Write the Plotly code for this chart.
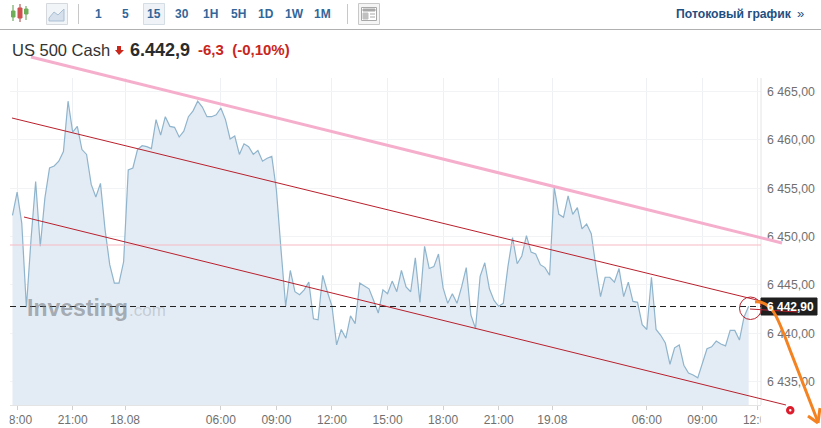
import plotly.graph_objects as go

W, H = 821, 428
L, R, T, B = 10, 761, 78, 405

# Closing prices, one per 15 minute bar
prices = [
    6452.2, 6454.6, 6451.4, 6442.7, 6449.7, 6455.7, 6449.0, 6454.0, 6457.1, 6457.3,
    6457.8, 6458.8, 6464.0, 6460.8, 6461.4, 6459.0, 6458.5, 6455.4, 6454.1, 6455.5,
    6450.7, 6447.1, 6445.2, 6445.2, 6447.4, 6456.9, 6457.1, 6459.0, 6459.4, 6459.3,
    6459.1, 6462.1, 6460.5, 6462.4, 6461.4, 6461.3, 6460.3, 6460.9, 6462.4, 6463.0,
    6464.0, 6463.4, 6462.4, 6462.4, 6462.6, 6463.3, 6462.1, 6460.1, 6460.4, 6458.5,
    6459.6, 6459.3, 6458.5, 6458.9, 6457.8, 6458.1, 6458.3, 6454.8, 6448.6, 6442.8,
    6446.5, 6444.3, 6444.0, 6444.5, 6445.3, 6441.5, 6441.4, 6446.0, 6444.3, 6442.8,
    6438.8, 6440.4, 6439.5, 6441.8, 6441.0, 6445.2, 6444.9, 6444.6, 6443.4, 6442.1,
    6444.5, 6444.1, 6445.4, 6444.3, 6446.5, 6444.8, 6444.3, 6447.8, 6443.2, 6449.0,
    6446.7, 6446.9, 6448.2, 6444.7, 6443.1, 6444.1, 6443.1, 6444.8, 6446.8, 6441.9,
    6440.5, 6445.9, 6447.3, 6444.6, 6443.4, 6442.8, 6443.1, 6446.9, 6449.9, 6447.2,
    6448.0, 6450.1, 6448.4, 6448.2, 6447.1, 6446.8, 6446.0, 6455.1, 6452.3, 6452.0,
    6454.2, 6452.3, 6453.0, 6450.8, 6451.3, 6450.3, 6446.9, 6443.8, 6445.8, 6445.8,
    6445.3, 6446.7, 6443.8, 6445.3, 6443.3, 6443.2, 6440.9, 6440.4, 6445.8, 6440.4,
    6439.8, 6439.0, 6436.8, 6438.5, 6438.8, 6436.7, 6435.9, 6435.7, 6435.4, 6436.9,
    6438.4, 6438.6, 6439.2, 6438.9, 6438.7, 6440.3, 6440.3, 6439.3, 6441.7, 6442.8,
]
bars = list(range(len(prices)))

x_tickvals = [1, 13, 24.3, 45, 57, 69, 81, 93, 105, 116.6, 137, 149, 161]
x_ticktext = ["18:00", "21:00", "18.08", "06:00", "09:00", "12:00", "15:00", "18:00", "21:00",
              "19.08", "06:00", "09:00", "12:00"]
y_tickvals = [6435, 6440, 6445, 6450, 6455, 6460, 6465]
y_ticktext = ["6 435,00", "6 440,00", "6 445,00", "6 450,00", "6 455,00", "6 460,00", "6 465,00"]

timeframes = ["1", "5", "15", "30", "1H", "5H", "1D", "1W", "1M"]
timeframe_x = [98, 126, 154, 182, 210, 238, 266, 294, 322]


# Everything outside the plot is placed in page pixels
def px(x):
    return (x - L) / (R - L)


def py(y):
    return (B - y) / (B - T)


def line(x0, y0, x1, y1, color, width=1, dash="solid"):
    return dict(type="line", xref="paper", yref="paper", x0=px(x0), y0=py(y0), x1=px(x1), y1=py(y1),
                line=dict(color=color, width=width, dash=dash))


def box(x0, y0, x1, y1, fill, border=None):
    return dict(type="rect", xref="paper", yref="paper", x0=px(x0), y0=py(y0), x1=px(x1), y1=py(y1),
                fillcolor=fill, line=dict(color=border or fill, width=1))


def text(x, y, s, size, color, anchor="left", font="Liberation Sans"):
    return dict(xref="paper", yref="paper", x=px(x), y=py(y), text=s, showarrow=False,
                xanchor=anchor, yanchor="middle", borderpad=0, font=dict(size=size, color=color, family=font))


fig = go.Figure()
fig.add_trace(go.Scatter(x=bars, y=prices, mode="lines", fill="tozeroy", fillcolor="#e3ecf5",
                         line=dict(color="#8fb4cc", width=1.2), hoverinfo="skip"))

shapes = [
    # cut the first and last time labels like the reference does
    box(0, 407, 9, 428, "#ffffff"),
    box(761, 407, 821, 428, "#ffffff"),
    # header
    line(0, 29.5, W, 29.5, "#b0b0b0", 1.2),
    line(78.5, 4, 78.5, 24, "#c8c8c8"),
    line(347.5, 4, 347.5, 24, "#c8c8c8"),
    box(46.5, 3.5, 67.5, 24.5, "#f2f5f8", "#d5d9dd"),
    box(143.5, 3.5, 164.5, 24.5, "#eff3f7", "#d5dde4"),
    box(358.5, 3.5, 379.5, 24.5, "#f5f5f5", "#c8c8c8"),
    box(361.5, 7.5, 376.5, 20.5, "#ffffff", "#a8a8a8"),
    box(363, 9, 375, 11, "#a8a8a8"),
    box(363, 13, 368, 19, "#c0c0c0"),
    line(370, 14, 375, 14, "#a8a8a8"),
    line(370, 17, 375, 17, "#a8a8a8"),
    # candle icon
    line(13, 5, 13, 21, "#5a9a48"),
    box(11.5, 11, 15, 17, "#6fae58"),
    line(20, 4, 20, 22, "#a04040"),
    box(18, 8, 22, 18, "#d05050"),
    line(26, 6, 26, 20, "#5a9a48"),
    box(24.5, 9, 28, 14, "#6fae58"),
    # line icon
    dict(type="path", xref="paper", yref="paper", fillcolor="#d5e0ec", line=dict(color="#a9bfd4", width=1),
         path="M %f,%f L %f,%f L %f,%f L %f,%f L %f,%f L %f,%f Z" % (
             px(49), py(18), px(54), py(12), px(58), py(15), px(64), py(9), px(64), py(21), px(49), py(21))),
    # red arrow next to the price
    dict(type="path", xref="paper", yref="paper", fillcolor="#c9261c", line=dict(color="#c9261c", width=0),
         path="M %f,%f L %f,%f L %f,%f L %f,%f L %f,%f L %f,%f L %f,%f Z" % (
             px(117), py(46), px(121), py(46), px(121), py(50), px(124), py(50), px(119), py(55),
             px(115), py(50), px(117), py(50))),
    # axis and levels
    line(R, T, R, B, "#e4e4e4"),
    line(L, 245, R, 245, "#f7b9c4", 1.2),
    line(L, 306.5, R, 306.5, "#222222", 1, "6px 4px"),
    # drawn channel
    line(31, 57, 782, 243, "#f5aecb", 3),
    line(12, 118, 765, 302, "#b8202c", 1),
    line(24, 217, 786, 405, "#b8202c", 1),
    # price label
    box(761, 298, 817, 315, "#1f1f1f"),
    line(750, 309, 798, 312, "#b8202c", 1),
    dict(type="circle", xref="paper", yref="paper", x0=px(739.5), y0=py(297), x1=px(761.5), y1=py(319.5),
         line=dict(color="#b8202c", width=1)),
    # red dot
    dict(type="circle", xref="paper", yref="paper", x0=px(787.5), y0=py(407.5), x1=px(793), y1=py(413),
         fillcolor="#ffffff", line=dict(color="#dd1c2c", width=3)),
    # orange arrow
    dict(type="path", xref="paper", yref="paper", line=dict(color="#f58220", width=3),
         path="M %f,%f C %f,%f %f,%f %f,%f L %f,%f" % (
             px(755), py(302), px(772), py(300), px(778), py(318), px(790), py(350), px(818), py(422))),
    line(808, 416, 818, 423, "#f58220", 3),
    line(820, 408, 818, 423, "#f58220", 3),
]

annotations = [
    text(675, 14, "<b>Потоковый график</b>", 12.2, "#1f4f82"),
    text(796, 13, "»", 13, "#1f4f82"),
    text(11, 50, "US 500 Cash", 16.5, "#333333"),
    text(129, 50, "<b>6.442,9</b>", 18, "#2b2b2b"),
    text(197, 50, "<b>-6,3  (-0,10%)</b>", 15, "#c9261c"),
    text(790, 306.5, "<b>6 442,90</b>", 12, "#ffffff", "center"),
    text(26, 308, "<b>Investing</b>", 23, "rgba(110,115,120,0.55)"),
    text(128, 310, ".com", 17, "rgba(150,155,160,0.4)"),
]
for tf, tx in zip(timeframes, timeframe_x):
    annotations.append(text(tx, 14, "<b>%s</b>" % tf, 12, "#336699", "center"))

fig.update_layout(
    width=W, height=H, autosize=False,
    margin=dict(l=L, r=W - R, t=T, b=H - B, pad=0, autoexpand=False),
    paper_bgcolor="#ffffff", plot_bgcolor="#ffffff",
    showlegend=False,
    font=dict(family="Liberation Sans", size=12, color="#707070"),
    shapes=shapes, annotations=annotations,
    xaxis=dict(range=[-0.54, 161.66], tickmode="array", tickvals=x_tickvals, ticktext=x_ticktext,
               automargin=False, showgrid=True, gridcolor="#eef1f4", gridwidth=1, zeroline=False,
               ticks="outside", ticklen=4, tickcolor="#d0d0d0", showline=True, linecolor="#e4e4e4",
               tickfont=dict(size=12, color="#707070")),
    yaxis=dict(range=[6432.59, 6466.4], side="right", tickmode="array", tickvals=y_tickvals, ticktext=y_ticktext,
               automargin=False, showgrid=True, gridcolor="#f1f3f5", gridwidth=1, zeroline=False, ticks="",
               ticklabelstandoff=5, tickfont=dict(size=12.3, color="#707070")),
)

# the page's default body margin would push the chart away from the corner
fig.write_html("out.html", config=dict(displayModeBar=False),
               post_script="document.body.style.margin='0';document.body.style.overflow='hidden';")
